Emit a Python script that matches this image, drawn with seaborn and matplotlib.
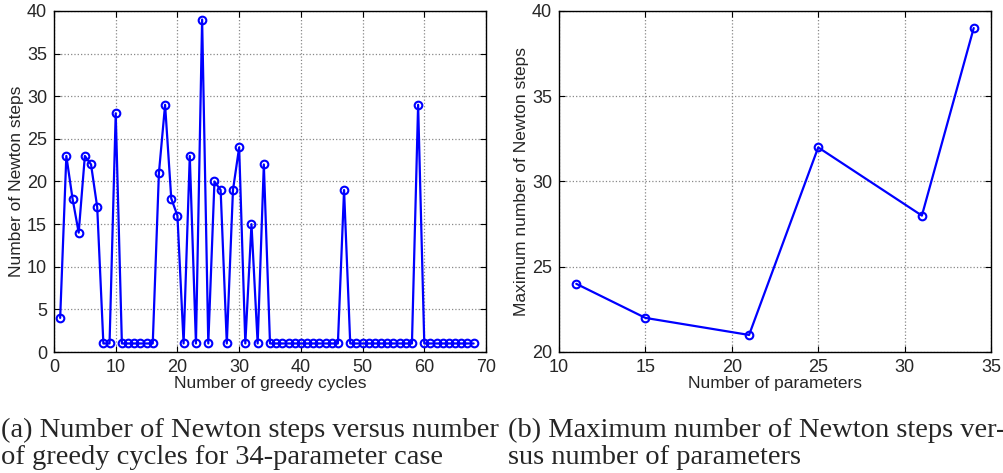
import numpy as np
import pandas as pd
import matplotlib
matplotlib.use("Agg")
import matplotlib.pyplot as plt
import seaborn as sns

# Left panel data: Newton steps per greedy cycle (34-parameter case)
cycles = list(range(1, 69))
newton_steps = [4, 23, 18, 14, 23, 22, 17, 1, 1, 28,
                1, 1, 1, 1, 1, 1, 21, 29, 18, 16,
                1, 23, 1, 39, 1, 20, 19, 1, 19, 24,
                1, 15, 1, 22, 1, 1, 1, 1, 1, 1,
                1, 1, 1, 1, 1, 1, 19, 1, 1, 1,
                1, 1, 1, 1, 1, 1, 1, 1, 29, 1,
                1, 1, 1, 1, 1, 1, 1, 1]

# Right panel data: max Newton steps vs number of parameters
n_params = [11, 15, 21, 25, 31, 34]
max_steps = [24, 22, 21, 32, 28, 39]

sns.set_style("ticks")
plt.rcParams['font.family'] = ['Liberation Sans', 'DejaVu Sans']

fig = plt.figure(figsize=(10.04, 4.73), dpi=100)
W, H = 1004, 473
ax1 = fig.add_axes([54 / W, 1 - 352 / H, (486 - 54) / W, (352 - 11) / H])
ax2 = fig.add_axes([559 / W, 1 - 352 / H, (991 - 559) / W, (352 - 11) / H])

df1 = pd.DataFrame({"x": cycles, "y": newton_steps})
df2 = pd.DataFrame({"x": n_params, "y": max_steps})

style = dict(color="#0000ff", marker="o", markersize=5.5, markerfacecolor="none",
             markeredgecolor="#0000ff", markeredgewidth=1.5, linewidth=1.6)
sns.lineplot(data=df1, x="x", y="y", ax=ax1, **style)
sns.lineplot(data=df2, x="x", y="y", ax=ax2, **style)

ax1.set_xlim(0, 70)
ax1.set_ylim(0, 40)
ax1.set_xticks(range(0, 71, 10))
ax1.set_yticks(range(0, 41, 5))
ax1.set_xlabel("Number of greedy cycles", fontsize=12.5, labelpad=0)
ax1.set_ylabel("Number of Newton steps", fontsize=12.5, labelpad=2)

ax2.set_xlim(10, 35)
ax2.set_ylim(20, 40)
ax2.set_xticks(range(10, 36, 5))
ax2.set_yticks(range(20, 41, 5))
ax2.set_xlabel("Number of parameters", fontsize=12.5, labelpad=0)
ax2.set_ylabel("Maximum number of Newton steps", fontsize=12.5, labelpad=2)

for ax in (ax1, ax2):
    ax.grid(True, linestyle=":", color="#888888", linewidth=0.9)
    ax.tick_params(direction="in", length=4, labelsize=13, top=True, right=True,
                   color="black", width=0.8, pad=5)
    for s in ax.spines.values():
        s.set_visible(True)
        s.set_linewidth(1.0)
        s.set_color("black")

cap_font = dict(family=["Liberation Serif", "DejaVu Serif"], fontsize=20.5)
fig.text(1 / W, 1 - 437 / H, "(a) Number of Newton steps versus number",
         ha="left", va="baseline", **cap_font)
fig.text(1 / W, 1 - 464 / H, "of greedy cycles for 34-parameter case",
         ha="left", va="baseline", **cap_font)
fig.text(508 / W, 1 - 437 / H, "(b) Maximum number of Newton steps ver-",
         ha="left", va="baseline", **cap_font)
fig.text(508 / W, 1 - 464 / H, "sus number of parameters",
         ha="left", va="baseline", **cap_font)

fig.savefig("out.png", dpi=100)
